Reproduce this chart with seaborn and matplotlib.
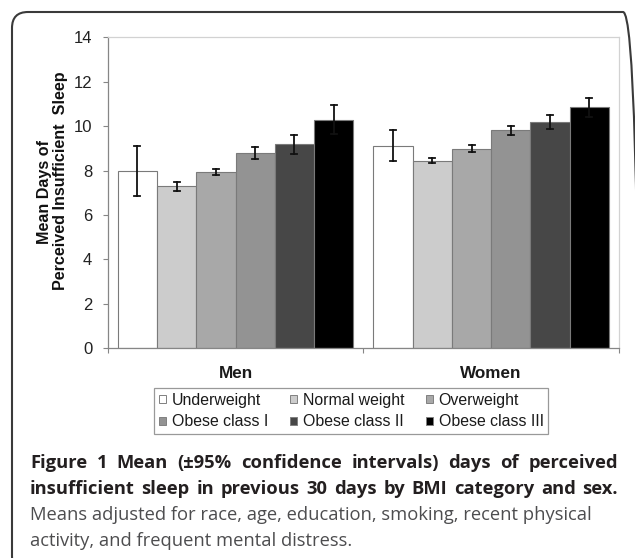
import matplotlib
matplotlib.use("Agg")
import matplotlib.pyplot as plt
import seaborn as sns
import pandas as pd
from matplotlib.patches import FancyBboxPatch, Patch

# ---------------- data ----------------
sexes = ["Men", "Women"]
bmi_categories = ["Underweight", "Normal weight", "Overweight",
                  "Obese class I", "Obese class II", "Obese class III"]
men_mean = [7.98, 7.31, 7.94, 8.79, 9.20, 10.29]
men_lower = [6.86, 7.09, 7.79, 8.54, 8.76, 9.66]
men_upper = [9.09, 7.49, 8.09, 9.04, 9.62, 10.93]
women_mean = [9.11, 8.44, 8.98, 9.84, 10.19, 10.84]
women_lower = [8.42, 8.32, 8.83, 9.60, 9.86, 10.43]
women_upper = [9.81, 8.56, 9.13, 10.02, 10.52, 11.26]
bar_colors = ["#ffffff", "#cccccc", "#a8a8a8", "#939393", "#474747", "#000000"]
y_ticks = [0, 2, 4, 6, 8, 10, 12, 14]
ylabel_line1 = "Mean Days of"
ylabel_line2 = "Perceived Insufficient  Sleep"
caption_bold = ["Figure 1 Mean (\u00b195% confidence intervals) days of perceived",
                "insufficient sleep in previous 30 days by BMI category and sex."]
caption_regular = ["Means adjusted for race, age, education, smoking, recent physical",
                   "activity, and frequent mental distress."]

# long form: each bar gets lower / mean / upper rows; median -> mean, min/max -> CI
rows = []
for sex, means, lows, ups in [("Men", men_mean, men_lower, men_upper),
                              ("Women", women_mean, women_lower, women_upper)]:
    for cat, m, lo, hi in zip(bmi_categories, means, lows, ups):
        for v in (lo, m, hi):
            rows.append({"sex": sex, "bmi": cat, "value": v})
df = pd.DataFrame(rows)

W, H = 635, 558
ARIAL = ["Liberation Sans", "DejaVu Sans"]
CAPF = ["Open Sans", "DejaVu Sans"]
plt.rcParams["font.family"] = ARIAL

fig = plt.figure(figsize=(W / 100, H / 100), dpi=100)
fig.patch.set_facecolor("white")

def fx(px):
    return px / W

def fy(py):
    return 1 - py / H

ax_l, ax_r, ax_t, ax_b = 107.7, 619.0, 37.3, 348.3
ax = fig.add_axes([fx(ax_l), fy(ax_b), (ax_r - ax_l) / W, (ax_b - ax_t) / H])

sns.barplot(data=df, x="sex", y="value", hue="bmi", order=sexes,
            hue_order=bmi_categories, palette=bar_colors, saturation=1,
            estimator="median", errorbar=lambda v: (v.min(), v.max()),
            width=0.921, capsize=0.14,
            err_kws={"color": "#111111", "linewidth": 1.3},
            edgecolor="#7a7a7a", linewidth=0.8, ax=ax, legend=False)

ax.set_xlim(-0.5, 1.5)
ax.set_ylim(0, 14)
ax.set_yticks(y_ticks)
ax.set_yticklabels([str(t) for t in y_ticks], fontsize=12, color="#222222")
ax.tick_params(axis="y", direction="out", length=3.6, width=0.8,
               color="#868686", pad=7.5)
ax.set_xticks([0, 1])
ax.set_xticklabels(sexes, fontsize=12.3, fontweight="bold", color="#1a1a1a")
ax.tick_params(axis="x", which="major", length=0, pad=13)
ax.set_xticks([-0.5, 0.5, 1.5], minor=True)
ax.tick_params(axis="x", which="minor", direction="out", length=3.6,
               width=0.8, color="#868686")
ax.set_xlabel("")
ax.set_ylabel("")
for side in ["left", "bottom"]:
    ax.spines[side].set_color("#868686")
    ax.spines[side].set_linewidth(0.9)
for side in ["top", "right"]:
    ax.spines[side].set_color("#d2d2d2")
    ax.spines[side].set_linewidth(0.9)

# y label (two lines)
fig.text(fx(44), fy(192), ylabel_line1, rotation=90, ha="center", va="center",
         fontsize=11.6, fontweight="bold", color="#111111")
fig.text(fx(60.5), fy(181), ylabel_line2, rotation=90, ha="center", va="center",
         fontsize=11.6, fontweight="bold", color="#111111")

# legend (row-major order as in the source: reorder for matplotlib's column fill)
ncol = 3
nrow = 2
order = [r * ncol + c for c in range(ncol) for r in range(nrow)]
handles = [Patch(facecolor=c, edgecolor="#808080", linewidth=0.7) for c in bar_colors]
leg = fig.legend([handles[i] for i in order], [bmi_categories[i] for i in order],
                 ncol=ncol, loc="upper left",
                 bbox_to_anchor=(fx(154), fy(388)), bbox_transform=fig.transFigure,
                 fontsize=11.4, frameon=True, fancybox=False, shadow=False,
                 handlelength=0.45, handleheight=0.45, handletextpad=0.38,
                 columnspacing=1.35, labelspacing=0.42, borderpad=0.3,
                 borderaxespad=0)
leg.get_frame().set_edgecolor("#808080")
leg.get_frame().set_linewidth(0.9)
for t in leg.get_texts():
    t.set_color("#1a1a1a")

# rounded outer frame (extends past right/bottom edge as in the source)
frame = FancyBboxPatch((0.12, (H - 572) / 100), 6.27, 5.60,
                       boxstyle="round,pad=0,rounding_size=0.16",
                       transform=fig.dpi_scale_trans, facecolor="none",
                       edgecolor="#3a3a3a", linewidth=1.5, zorder=-1)
fig.add_artist(frame)

# caption
renderer = fig.canvas.get_renderer()

def natural_width(s, size, weight):
    t = fig.text(0, 0, s, fontsize=size, fontweight=weight, family=CAPF)
    w = t.get_window_extent(renderer).width
    t.remove()
    return w

reg_size = 10 * 563 / natural_width(caption_regular[0], 10, "normal")
bold_size = min(reg_size, 10 * 572 / natural_width(caption_bold[0], 10, "bold"))

def draw_justified(line, x0, x1, yb, size, weight, color):
    words = line.split(" ")
    texts = [fig.text(0, 0, w, fontsize=size, fontweight=weight, family=CAPF,
                      color=color, va="baseline") for w in words]
    widths = [t.get_window_extent(renderer).width for t in texts]
    gap = (x1 - x0 - sum(widths)) / (len(words) - 1)
    x = x0
    for t, w in zip(texts, widths):
        t.set_position((fx(x), fy(yb)))
        x += w + gap

draw_justified(caption_bold[0], 30, 618, 468, bold_size, "bold", "#231f20")
draw_justified(caption_bold[1], 30, 618, 494, bold_size, "bold", "#231f20")
fig.text(fx(30), fy(520), caption_regular[0], fontsize=reg_size, family=CAPF,
         color="#4d4d4f", va="baseline")
fig.text(fx(30), fy(546), caption_regular[1], fontsize=reg_size, family=CAPF,
         color="#4d4d4f", va="baseline")

fig.savefig("out.png", dpi=100, facecolor="white")
